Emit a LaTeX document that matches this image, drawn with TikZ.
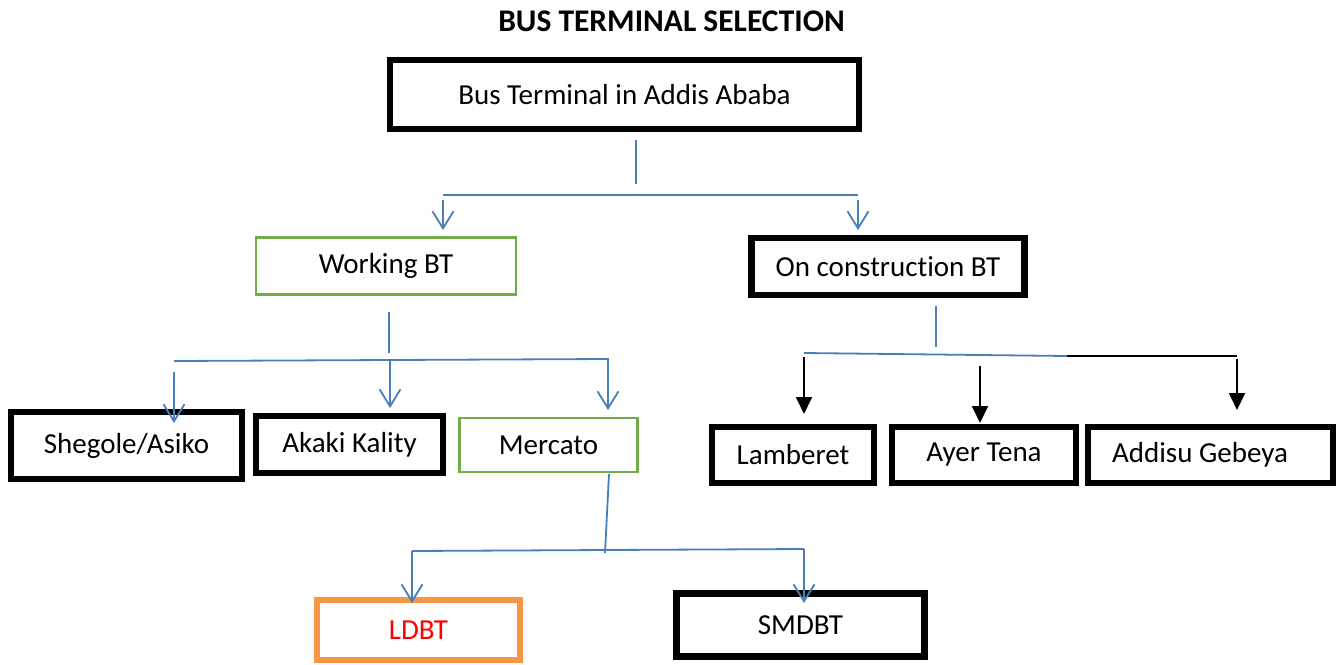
\documentclass[tikz,border=0pt]{standalone}
\usepackage{fontspec}
\setmainfont{Carlito}[Ligatures={NoCommon}]
\usetikzlibrary{arrows.meta}
\definecolor{lineblue}{HTML}{4A7EBB}
\definecolor{boxgreen}{HTML}{70AD47}
\definecolor{boxorange}{HTML}{F79646}
\definecolor{ldbtred}{HTML}{FF0000}
\begin{document}
\begin{tikzpicture}[x=1pt,y=-1pt,
  every node/.style={font=\fontsize{29}{34}\selectfont, inner sep=0pt, outer sep=0pt},
  thickbox/.style={draw=black, line width=6.5pt},
  greenbox/.style={draw=boxgreen, line width=2.5pt},
  orangebox/.style={draw=boxorange, line width=6pt},
  conn/.style={draw=lineblue, line width=1.8pt},
  barrow/.style={conn, -{Straight Barb[length=17pt,width=21pt]}},
  kline/.style={draw=black, line width=1.8pt},
  karrow/.style={kline, -{Triangle[length=17pt,width=16pt]}},
]
\useasboundingbox (0,0) rectangle (1341,664);

% title
\node[font=\fontsize{31.5}{38}\selectfont\bfseries] (title) at (671.5,21) {BUS TERMINAL SELECTION};

% boxes
\node[thickbox, minimum width=469pt, minimum height=69pt] (top) at (624.5,94.5) {Bus Terminal in Addis Ababa};
\node[greenbox, minimum width=260pt, minimum height=57pt] (work) at (386,266) {Working BT};
\node[thickbox, minimum width=273pt, minimum height=57pt] (cons) at (888,266.5) {On construction BT};
\node[thickbox, minimum width=231pt, minimum height=67pt] (sheg) at (126.5,445.5) {Shegole/Asiko};
\node[thickbox, minimum width=187pt, minimum height=57pt] (akaki) at (349.5,444.5) {Akaki Kality};
\node[greenbox, minimum width=178pt, minimum height=54pt] (merc) at (548.5,445) {Mercato};
\node[thickbox, minimum width=162pt, minimum height=56pt] (lamb) at (793,455) {Lamberet};
\node[thickbox, minimum width=184pt, minimum height=56pt] (ayer) at (984,455) {Ayer Tena};
\node[thickbox, minimum width=245pt, minimum height=56pt] (addisu) at (1210.5,455) {\hspace*{-21pt}Addisu Gebeya};
\node[orangebox, minimum width=203pt, minimum height=60pt, text=ldbtred] (ldbt) at (418.5,630) {LDBT};
\node[thickbox, minimum width=248pt, minimum height=63pt] (smdbt) at (800.5,625) {SMDBT};

% coordinates for connectors
\coordinate (a1) at (636,140);
\coordinate (a2) at (636,184);
\coordinate (h1) at (443,195);
\coordinate (h2) at (858,195);
\coordinate (d1) at (443,200);
\coordinate (d2) at (858,200);
\coordinate (workin) at (443,230);
\coordinate (consin) at (858,230);

\coordinate (w1) at (389,312);
\coordinate (w2) at (389,353);
\coordinate (wl) at (174,361);
\coordinate (wr) at (608,359);
\coordinate (wls) at (174,372);
\coordinate (wm) at (390,361);
\coordinate (shegin) at (174,423);
\coordinate (akakiin) at (390,408);
\coordinate (mercin) at (608,410);

\coordinate (c1) at (936,306);
\coordinate (c2) at (936,347);
\coordinate (cl) at (804,353);
\coordinate (cm) at (1067,356);
\coordinate (cr) at (1237,356);
\coordinate (clt) at (804,357);
\coordinate (cmt) at (980,366);
\coordinate (crt) at (1237,359);
\coordinate (lambin) at (804,414);
\coordinate (ayerin) at (980,423);
\coordinate (addisuin) at (1237,410);

\coordinate (m1) at (609,474);
\coordinate (m2) at (605,553);
\coordinate (ml) at (412,551);
\coordinate (mr) at (804,549);
\coordinate (ldbtin) at (412,603);
\coordinate (smdbtin) at (804,603);

% top connectors
\draw[conn] (a1) -- (a2);
\draw[conn] (h1) -- (h2);
\draw[barrow] (d1) -- (workin);
\draw[barrow] (d2) -- (consin);

% working BT connectors
\draw[conn] (w1) -- (w2);
\draw[barrow] (wl) -- (wr) -- (mercin);
\draw[barrow] (wls) -- (shegin);
\draw[barrow] (wm) -- (akakiin);

% on construction connectors
\draw[conn] (c1) -- (c2);
\draw[conn] (cl) -- (cm);
\draw[kline] (cm) -- (cr);
\draw[karrow] (clt) -- (lambin);
\draw[karrow] (cmt) -- (ayerin);
\draw[karrow] (crt) -- (addisuin);

% Mercato connectors
\draw[conn] (m1) -- (m2);
\draw[conn] (ml) -- (mr);
\draw[barrow] (ml) -- (ldbtin);
\draw[barrow] (mr) -- (smdbtin);
\end{tikzpicture}
\end{document}
